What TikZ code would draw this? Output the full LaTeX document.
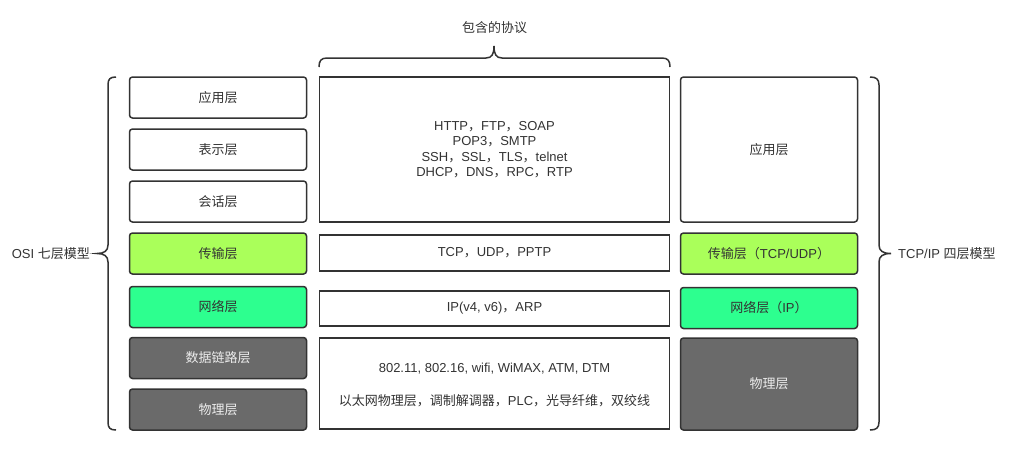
\documentclass[tikz,border=0pt]{standalone}
\usepackage{fontspec}
\setmainfont{Liberation Sans}
\newfontfamily\zhfont{Noto Sans CJK SC}
\newcommand\zhs[1]{{\zhfont #1}}
\definecolor{edge}{HTML}{333333}
\definecolor{txt}{HTML}{333333}
\definecolor{lgreen}{HTML}{AAFF5A}
\definecolor{mint}{HTML}{2DFF8F}
\definecolor{dgray}{HTML}{6A6A6A}
\tikzset{
  lay/.style={draw=edge, line width=1.5pt, rounded corners=3pt, text=txt, font=\fontsize{13}{15}\selectfont, inner sep=0pt},
  osibox/.style={lay, minimum width=177pt, minimum height=41pt},
  tcpbox/.style={lay, minimum width=177pt},
  protbox/.style={draw=edge, line width=1.5pt, text=txt, font=\fontsize{13}{15.5}\selectfont, inner sep=0pt, minimum width=350pt, align=center},
  whitefill/.style={fill=white},
  greenfill/.style={fill=lgreen},
  mintfill/.style={fill=mint},
  grayfill/.style={fill=dgray, text=white!93!black},
  bracestyle/.style={draw=edge, line width=1.5pt},
  lbl/.style={text=txt, font=\fontsize{13}{15}\selectfont, inner sep=0pt}
}
\begin{document}
\begin{tikzpicture}[x=1pt,y=-1pt]
\useasboundingbox[fill=white] (0,0) rectangle (1009,451);
% OSI column
\node[osibox, whitefill] (osi7) at (218,97.5) {\zhs{应用层}};
\node[osibox, whitefill] (osi6) at (218,149.5) {\zhs{表示层}};
\node[osibox, whitefill] (osi5) at (218,201.5) {\zhs{会话层}};
\node[osibox, greenfill] (osi4) at (218,253.5) {\zhs{传输层}};
\node[osibox, mintfill] (osi3) at (218,307) {\zhs{网络层}};
\node[osibox, grayfill] (osi2) at (218,358) {\zhs{数据链路层}};
\node[osibox, grayfill] (osi1) at (218,409.5) {\zhs{物理层}};
% protocols
\node[protbox, minimum height=145pt] (papp) at (494.5,149.5) {HTTP\zhs{，}FTP\zhs{，}SOAP\\POP3\zhs{，}SMTP\\SSH\zhs{，}SSL\zhs{，}TLS\zhs{，}telnet\\DHCP\zhs{，}DNS\zhs{，}RPC\zhs{，}RTP};
\node[protbox, minimum height=36pt] (ptr) at (494.5,253) {TCP\zhs{，}UDP\zhs{，}PPTP};
\node[protbox, minimum height=35pt] (pnet) at (494.5,308.5) {IP(v4, v6)\zhs{，}ARP};
\node[protbox, minimum height=91pt] (pphy) at (494.5,383.5) {};
\node[lbl] (pphy1) at (494.5,369) {802.11, 802.16, wifi, WiMAX, ATM, DTM};
\node[lbl] (pphy2) at (494.5,401) {\zhs{以太网物理层，调制解调器，}PLC\zhs{，光导纤维，双绞线}};
% TCP/IP column
\node[tcpbox, whitefill, minimum height=145pt] (tapp) at (769,149.5) {\zhs{应用层}};
\node[tcpbox, greenfill, minimum height=41pt] (ttr) at (769,253.5) {\zhs{传输层（}TCP/UDP\zhs{）}};
\node[tcpbox, mintfill, minimum height=41pt] (tnet) at (769,308) {\zhs{网络层（}IP\zhs{）}};
\node[tcpbox, grayfill, minimum height=92pt] (tphy) at (769,384) {\zhs{物理层}};
% braces
\draw[bracestyle] (116,77) .. controls (110,77) and (108,79) .. (108,85) -- (108,245)
  .. controls (108,251) and (104,253.5) .. (97,253.5)
  .. controls (104,253.5) and (108,256) .. (108,262) -- (108,422)
  .. controls (108,428) and (110,430) .. (116,430);
\draw[bracestyle] (319,67) .. controls (319,61) and (321,58) .. (327,58) -- (486,58)
  .. controls (492,58) and (494,54) .. (494,46)
  .. controls (494,54) and (496,58) .. (502,58) -- (662,58)
  .. controls (668,58) and (670,61) .. (670,67);
\draw[bracestyle] (870,77) .. controls (876,77) and (879,79) .. (879,85) -- (879,245)
  .. controls (879,251) and (883,253.5) .. (891,253.5)
  .. controls (883,253.5) and (879,256) .. (879,262) -- (879,422)
  .. controls (879,428) and (876,430) .. (870,430);
% labels
\node[lbl, anchor=east] (osilbl) at (90,254) {OSI \zhs{七层模型}};
\node[lbl, anchor=west] (tcplbl) at (898,254) {TCP/IP \zhs{四层模型}};
\node[lbl] (plbl) at (494.5,28) {\zhs{包含的协议}};
\end{tikzpicture}
\end{document}
